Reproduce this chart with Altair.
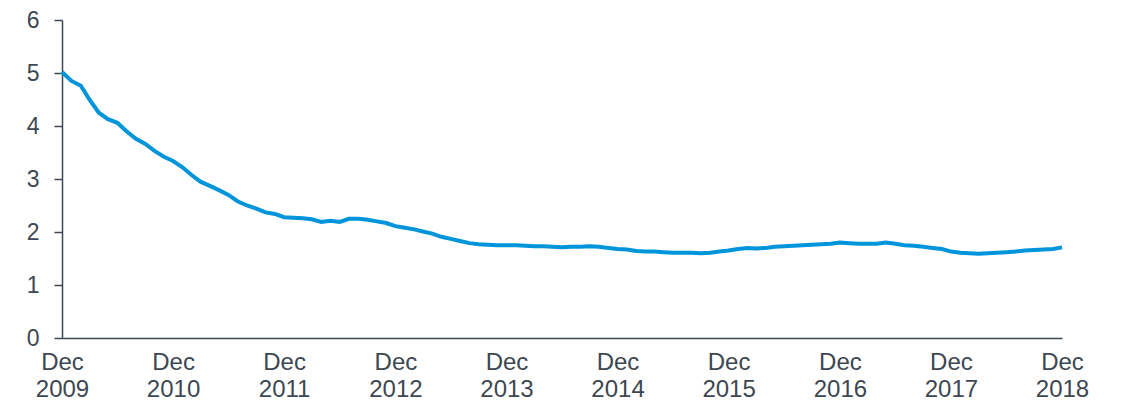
import altair as alt
import pandas as pd

# Monthly readings, Dec 2009 .. Dec 2018
start_year = 2009
start_month = 12
values = [
    5.02, 4.85, 4.76, 4.50, 4.25, 4.13, 4.06, 3.90, 3.76, 3.66, 3.53, 3.42,
    3.34, 3.22, 3.07, 2.95, 2.87, 2.79, 2.70, 2.58, 2.50, 2.44, 2.37, 2.34,
    2.28, 2.27, 2.26, 2.24, 2.19, 2.21, 2.19, 2.25, 2.25, 2.23, 2.20, 2.17,
    2.11, 2.08, 2.05, 2.01, 1.97, 1.91, 1.87, 1.83, 1.79, 1.77, 1.76, 1.75,
    1.75, 1.75, 1.74, 1.73, 1.73, 1.72, 1.71, 1.72, 1.72, 1.73, 1.72, 1.70,
    1.68, 1.67, 1.64, 1.63, 1.63, 1.62, 1.61, 1.61, 1.61, 1.60, 1.61, 1.63,
    1.65, 1.68, 1.70, 1.69, 1.70, 1.72, 1.73, 1.74, 1.75, 1.76, 1.77, 1.78,
    1.80, 1.79, 1.78, 1.78, 1.78, 1.80, 1.78, 1.75, 1.74, 1.72, 1.70, 1.68,
    1.63, 1.61, 1.60, 1.59, 1.60, 1.61, 1.62, 1.63, 1.65, 1.66, 1.67, 1.68,
    1.71,
]
tick_years = list(range(2009, 2019))
y_ticks = [0, 1, 2, 3, 4, 5, 6]

dates = []
y, m = start_year, start_month
for _ in values:
    dates.append(f"{y:04d}-{m:02d}-01")
    m += 1
    if m > 12:
        m = 1
        y += 1

df = pd.DataFrame({"date": dates, "value": values})

TEXT = "#3d4752"
LINE = "#0095da"

x_ticks = [alt.DateTime(year=yr, month=12, date=1, utc=True) for yr in tick_years]

chart = (
    alt.Chart(df)
    .mark_line(color=LINE, strokeWidth=4)
    .encode(
        x=alt.X(
            "date:T",
            scale=alt.Scale(
                type="utc",
                domain=[
                    alt.DateTime(year=tick_years[0], month=12, date=1, utc=True),
                    alt.DateTime(year=tick_years[-1], month=12, date=1, utc=True),
                ],
            ),
            axis=alt.Axis(
                values=x_ticks,
                labelExpr="[utcFormat(datum.value, '%b'), utcFormat(datum.value, '%Y')]",
                ticks=False,
                grid=False,
                labelFontSize=24,
                labelLineHeight=27,
                labelPadding=12,
                labelColor=TEXT,
                labelFont="Liberation Sans",
                domainColor=TEXT,
                domainWidth=1.5,
                title=None,
                labelFlush=False,
                labelOverlap=False,
            ),
        ),
        y=alt.Y(
            "value:Q",
            scale=alt.Scale(domain=[0, 6], nice=False, zero=True),
            axis=alt.Axis(
                values=y_ticks,
                grid=False,
                tickSize=8,
                tickColor=TEXT,
                tickWidth=1.5,
                labelFontSize=23,
                labelPadding=15,
                labelColor=TEXT,
                labelFont="Liberation Sans",
                domainColor=TEXT,
                domainWidth=1.5,
                title=None,
            ),
        ),
    )
    .properties(
        width=1000,
        height=318,
        autosize=alt.AutoSizeParams(type="none"),
        padding={"left": 54, "top": 12, "right": 50, "bottom": 64},
    )
    .configure_view(stroke=None)
)

chart.save("out.html", embed_options={"renderer": "svg", "actions": False})
